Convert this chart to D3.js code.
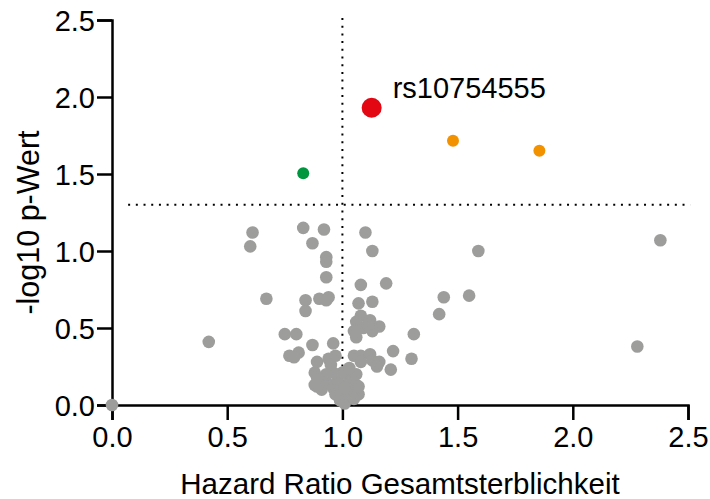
<!DOCTYPE html>
<html>
<head>
<meta charset="utf-8">
<script src="https://cdn.jsdelivr.net/npm/d3@7"></script>
<style>
  body { margin: 0; background: #fff; }
  svg { display: block; font-family: "Liberation Sans", Arial, sans-serif; }
</style>
</head>
<body>
<div id="chart"></div>
<script>
// gray SNPs: hazard ratio / -log10 p
const grayHR = [
  0.00, 0.42, 0.61, 0.60, 0.67,
  0.83, 0.92, 0.87, 0.93, 0.93, 0.93,
  0.84, 0.84, 0.90, 0.94, 0.93,
  0.75, 0.80, 0.87, 0.96,
  0.77, 0.81, 0.79,
  0.89, 0.94, 0.97, 0.95, 0.88, 0.89,
  0.91, 0.93, 0.96, 0.97, 0.98, 0.99, 1.01, 1.02, 1.02, 1.03,
  1.04, 1.06, 1.06, 1.00, 0.96, 0.93, 0.89, 1.07, 1.01, 1.03,
  1.07, 1.05, 0.88,
  1.10, 1.13, 1.08, 1.19, 1.07, 1.13,
  1.08, 1.06, 1.12, 1.16, 1.05, 1.13, 1.09, 1.06, 1.11,
  1.05, 1.08, 1.12, 1.08, 1.13, 1.16, 1.15, 1.21, 1.22,
  1.31, 1.30, 1.42, 1.44, 1.55, 1.59, 2.38, 2.28
];
const grayP = [
  0.00, 0.41, 1.12, 1.03, 0.69,
  1.15, 1.14, 1.05, 0.96, 0.93, 0.83,
  0.68, 0.61, 0.69, 0.70, 0.68,
  0.46, 0.46, 0.39, 0.40,
  0.32, 0.34, 0.31,
  0.28, 0.30, 0.32, 0.26, 0.21, 0.12,
  0.10, 0.15, 0.11, 0.07, 0.16, 0.03, 0.01, 0.07, 0.13, 0.18,
  0.08, 0.13, 0.20, 0.21, 0.21, 0.20, 0.18, 0.07, 0.11, 0.24,
  0.12, 0.04, 0.13,
  1.12, 1.00, 0.78, 0.79, 0.66, 0.67,
  0.58, 0.54, 0.55, 0.51, 0.48, 0.48, 0.50, 0.44, 0.52,
  0.32, 0.32, 0.33, 0.28, 0.29, 0.28, 0.25, 0.23, 0.35,
  0.46, 0.30, 0.59, 0.70, 0.71, 1.00, 1.07, 0.38
];

// significant SNPs
const sigHR = [0.83, 1.48, 1.855];
const sigP = [1.505, 1.716, 1.651];
const sigColor = ["#009640", "#f39200", "#f39200"];

const topHR = 1.127;
const topP = 1.93;
const topLabel = "rs10754555";

const xTicks = [0, 0.5, 1.0, 1.5, 2.0, 2.5];
const yTicks = [0, 0.5, 1.0, 1.5, 2.0, 2.5];
const pThreshold = 1.301;

const width = 710, height = 499;
const margin = { top: 20, right: 22, bottom: 94, left: 112 };

const svg = d3.select("#chart").append("svg")
  .attr("width", width)
  .attr("height", height);

const x = d3.scaleLinear().domain([0, 2.5]).range([margin.left, width - margin.right]);
const y = d3.scaleLinear().domain([0, 2.5]).range([height - margin.bottom, margin.top]);

// reference lines
svg.append("line")
  .attr("x1", x(1)).attr("x2", x(1))
  .attr("y1", y(2.5) - 2).attr("y2", y(0))
  .attr("stroke", "#000").attr("stroke-width", 2)
  .attr("stroke-dasharray", "2,5.7");

svg.append("line")
  .attr("x1", x(0.07)).attr("x2", x(2.51))
  .attr("y1", y(pThreshold)).attr("y2", y(pThreshold))
  .attr("stroke", "#000").attr("stroke-width", 2)
  .attr("stroke-dasharray", "2,5.7");

// axes
const xAxis = svg.append("g")
  .attr("transform", `translate(0,${y(0)})`)
  .call(d3.axisBottom(x).tickValues(xTicks).tickFormat(d3.format(".1f")).tickSize(15).tickPadding(6));

const yAxis = svg.append("g")
  .attr("transform", `translate(${x(0)},0)`)
  .call(d3.axisLeft(y).tickValues(yTicks).tickFormat(d3.format(".1f")).tickSize(15).tickPadding(2));

[xAxis, yAxis].forEach(g => {
  g.select(".domain").attr("stroke-width", 2.5);
  g.selectAll(".tick line").attr("stroke-width", 2.5);
  g.selectAll(".tick text")
    .attr("font-size", 29)
    .attr("fill", "#000")
    .attr("font-family", "Liberation Sans, Arial, sans-serif");
});
yAxis.selectAll(".tick text").attr("dy", "0.36em");

svg.append("text")
  .attr("x", (x(0) + x(2.5)) / 2)
  .attr("y", 494)
  .attr("text-anchor", "middle")
  .attr("font-size", 29.5)
  .text("Hazard Ratio Gesamtsterblichkeit");

svg.append("text")
  .attr("transform", `translate(39,${(y(0) + y(2.5)) / 2 + 10}) rotate(-90)`)
  .attr("text-anchor", "middle")
  .attr("font-size", 30.5)
  .text("-log10 p-Wert");

// points
svg.append("g")
  .selectAll("circle")
  .data(grayHR.map((hr, i) => ({ hr, p: grayP[i] })))
  .join("circle")
  .attr("cx", d => x(d.hr))
  .attr("cy", d => y(d.p))
  .attr("r", 6.3)
  .attr("fill", "#9d9d9c");

svg.append("g")
  .selectAll("circle")
  .data(sigHR.map((hr, i) => ({ hr, p: sigP[i], c: sigColor[i] })))
  .join("circle")
  .attr("cx", d => x(d.hr))
  .attr("cy", d => y(d.p))
  .attr("r", 6)
  .attr("fill", d => d.c);

svg.append("circle")
  .attr("cx", x(topHR))
  .attr("cy", y(topP))
  .attr("r", 10)
  .attr("fill", "#e30613");

svg.append("text")
  .attr("x", x(topHR) + 21)
  .attr("y", y(topP) - 10)
  .attr("font-size", 29)
  .text(topLabel);
</script>
</body>
</html>
